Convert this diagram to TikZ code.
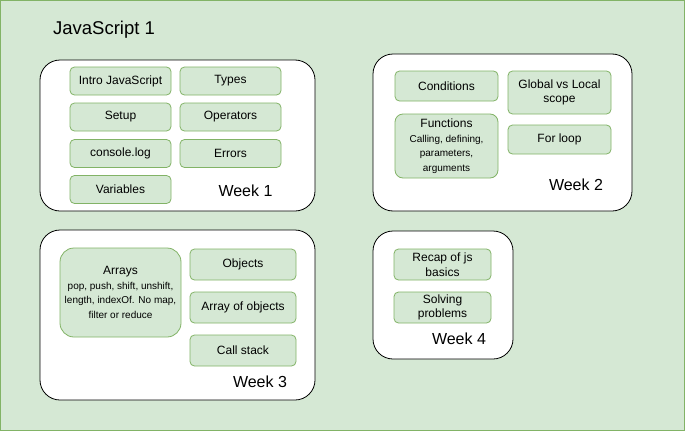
\documentclass[tikz,border=0pt]{standalone}
\usepackage{fontspec}
\setmainfont{Liberation Sans}
\definecolor{topicfill}{HTML}{D5E8D4}
\definecolor{topicline}{HTML}{82B366}
\newcommand{\topicfont}{\fontsize{12}{14}\selectfont}
\newcommand{\detailfont}{\fontsize{10}{14.5}\selectfont}
\tikzset{
    weekbox/.style={draw=black, fill=white, rounded corners=20pt, line width=0.8pt},
    topic/.style={draw=topicline, fill=topicfill, rounded corners=4.5pt, line width=0.8pt,
        inner sep=1pt, align=center, font=\topicfont},
    weeklabel/.style={font=\fontsize{16}{18}\selectfont, inner sep=0pt},
}
\begin{document}
\begin{tikzpicture}[x=1pt, y=-1pt]
    \useasboundingbox (0,0) rectangle (685,431);
    \draw[draw=topicline, fill=topicfill, line width=1pt] (0.5,0.5) rectangle (684.5,430.5);
    \node[font=\fontsize{18.5}{21}\selectfont, inner sep=0pt] (title) at (104,30) {JavaScript 1};

    % week 1
    \draw[weekbox] (40,60) rectangle (315,211);
    \node[topic, minimum width=101pt, minimum height=28pt] (intro) at (120.5,81) {Intro JavaScript};
    \node[topic, minimum width=101pt, minimum height=28pt] (types) at (230.5,81) {Types};
    \node[topic, minimum width=101pt, minimum height=28pt] (setup) at (120.5,117) {Setup};
    \node[topic, minimum width=101pt, minimum height=28pt] (operators) at (230.5,117) {Operators};
    \node[topic, minimum width=101pt, minimum height=28pt] (console) at (120.5,153.5) {console.log};
    \node[topic, minimum width=101pt, minimum height=28pt] (errors) at (230.5,153.5) {Errors};
    \node[topic, minimum width=101pt, minimum height=28pt] (variables) at (120.5,189.5) {Variables};
    \node[weeklabel] (week1) at (245.5,191) {Week 1};

    % week 2
    \draw[weekbox] (373,54) rectangle (632,211);
    \node[topic, minimum width=103pt, minimum height=30pt] (conditions) at (446.5,86) {Conditions};
    \node[topic, minimum width=103pt, minimum height=43pt] (scope) at (559.5,92.5) {Global vs Local\\scope};
    \node[topic, minimum width=103pt, minimum height=64pt, rounded corners=8pt, font=\detailfont] (functions) at (446.5,146)
        {{\topicfont Functions}\\Calling, defining,\\parameters,\\arguments};
    \node[topic, minimum width=103pt, minimum height=29pt] (forloop) at (559.5,139.5) {For loop};
    \node[weeklabel] (week2) at (576,184.5) {Week 2};

    % week 3
    \draw[weekbox] (40,230) rectangle (315,400);
    \node[topic, minimum width=121pt, minimum height=89pt, rounded corners=14pt, font=\detailfont] (arrays) at (120.5,292.5)
        {{\topicfont Arrays}\\pop, push, shift, unshift,\\length, indexOf. No map,\\filter or reduce};
    \node[topic, minimum width=106pt, minimum height=31pt] (objects) at (243,264.5) {Objects};
    \node[topic, minimum width=106pt, minimum height=31pt] (arrobjects) at (243,307.5) {Array of objects};
    \node[topic, minimum width=106pt, minimum height=31pt] (callstack) at (243,350.5) {Call stack};
    \node[weeklabel] (week3) at (260,382) {Week 3};

    % week 4
    \draw[weekbox] (373,231) rectangle (513,359);
    \node[topic, minimum width=97pt, minimum height=31pt, font=\fontsize{12}{14.5}\selectfont] (recap) at (442.5,264.5) {Recap of js\\basics};
    \node[topic, minimum width=97pt, minimum height=31pt, font=\fontsize{12}{14.5}\selectfont] (solving) at (442.5,307.5) {Solving\\problems};
    \node[weeklabel] (week4) at (459,339) {Week 4};
\end{tikzpicture}
\end{document}
